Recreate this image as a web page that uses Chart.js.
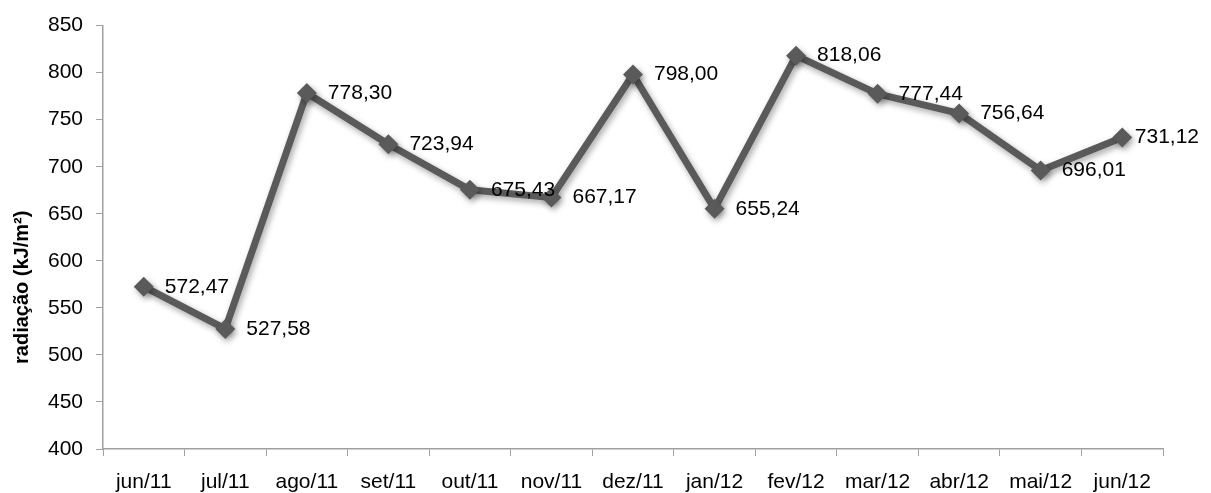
<!DOCTYPE html>
<html lang="pt">
<head>
<meta charset="utf-8">
<title>Radiação mensal</title>
<script src="https://cdn.jsdelivr.net/npm/chart.js@4.4.1/dist/chart.umd.min.js"></script>
<style>
  html, body { margin: 0; padding: 0; background: #ffffff; }
  #wrap { position: relative; width: 1211px; height: 493px; }
</style>
</head>
<body>
<div id="wrap"><canvas id="grafico" width="1211" height="493"></canvas></div>
<script>
// Meses da série
const meses = ['jun/11', 'jul/11', 'ago/11', 'set/11', 'out/11', 'nov/11', 'dez/11',
               'jan/12', 'fev/12', 'mar/12', 'abr/12', 'mai/12', 'jun/12'];

// Radiação média mensal (kJ/m²)
const radiacao = [572.47, 527.58, 778.30, 723.94, 675.43, 667.17, 798.00,
                  655.24, 818.06, 777.44, 756.64, 696.01, 731.12];

// Escala do eixo vertical
const yMin = 400;
const yMax = 850;
const yPasso = 50;

const tituloY = 'radiação (kJ/m²)';

const FONTE = "'Liberation Sans', Arial, sans-serif";
const COR_LINHA = '#5a5a5a';
const COR_EIXO = '#a0a0a0';

const fmt = v => v.toFixed(2).replace('.', ',');

// Sombra suave por trás da linha e dos marcadores
const sombra = {
  id: 'sombra',
  beforeDatasetsDraw(chart) {
    const ctx = chart.ctx;
    ctx.save();
    ctx.shadowColor = 'rgba(0,0,0,0.35)';
    ctx.shadowBlur = 6;
    ctx.shadowOffsetX = 2;
    ctx.shadowOffsetY = 3;
  },
  afterDatasetsDraw(chart) {
    chart.ctx.restore();
  }
};

// Rótulos de valor à direita de cada ponto
const rotulos = {
  id: 'rotulos',
  afterDatasetsDraw(chart) {
    const ctx = chart.ctx;
    const meta = chart.getDatasetMeta(0);
    const dados = chart.data.datasets[0].data;
    ctx.save();
    ctx.font = '21px ' + FONTE;
    ctx.fillStyle = '#000000';
    ctx.textAlign = 'left';
    ctx.textBaseline = 'middle';
    meta.data.forEach((pt, i) => {
      const txt = fmt(dados[i]);
      const w = ctx.measureText(txt).width;
      let x = pt.x + 21;
      if (x + w > chart.width - 12) x = chart.width - 12 - w;
      ctx.fillText(txt, x, pt.y);
    });
    ctx.restore();
  }
};

// Título do eixo vertical, girado
const tituloEixo = {
  id: 'tituloEixo',
  afterDraw(chart) {
    const ctx = chart.ctx;
    const a = chart.chartArea;
    ctx.save();
    ctx.translate(22, (a.top + a.bottom) / 2 + 50);
    ctx.rotate(-Math.PI / 2);
    ctx.font = 'bold 20px ' + FONTE;
    ctx.fillStyle = '#000000';
    ctx.textAlign = 'center';
    ctx.textBaseline = 'middle';
    ctx.fillText(tituloY, 0, 0);
    ctx.restore();
  }
};

new Chart(document.getElementById('grafico'), {
  type: 'line',
  data: {
    labels: meses,
    datasets: [{
      data: radiacao,
      borderColor: COR_LINHA,
      backgroundColor: COR_LINHA,
      borderWidth: 7,
      tension: 0,
      fill: false,
      pointStyle: 'rectRot',
      pointRadius: 10,
      pointBorderWidth: 0,
      pointBackgroundColor: COR_LINHA,
      borderJoinStyle: 'round'
    }]
  },
  options: {
    responsive: false,
    animation: false,
    devicePixelRatio: 1,
    layout: { padding: { left: 0, top: 20, right: 48, bottom: 0 } },
    plugins: {
      legend: { display: false },
      tooltip: { enabled: false },
      title: { display: false }
    },
    scales: {
      x: {
        type: 'category',
        offset: true,
        afterFit(scale) { scale.height = 44; },
        grid: {
          offset: true,
          drawOnChartArea: false,
          drawTicks: true,
          tickLength: 7,
          color: COR_EIXO,
          lineWidth: 1
        },
        border: { display: true, color: COR_EIXO, width: 1.5 },
        ticks: {
          autoSkip: false,
          maxRotation: 0,
          minRotation: 0,
          padding: 14,
          color: '#000000',
          font: { family: FONTE, size: 21 }
        }
      },
      y: {
        min: yMin,
        max: yMax,
        afterFit(scale) { scale.width = 103; },
        grid: {
          drawOnChartArea: false,
          drawTicks: true,
          tickLength: 7,
          color: COR_EIXO,
          lineWidth: 1
        },
        border: { display: true, color: COR_EIXO, width: 1.5 },
        ticks: {
          stepSize: yPasso,
          padding: 13,
          color: '#000000',
          font: { family: FONTE, size: 21 },
          callback: v => String(v)
        }
      }
    }
  },
  plugins: [sombra, rotulos, tituloEixo]
});
</script>
</body>
</html>
